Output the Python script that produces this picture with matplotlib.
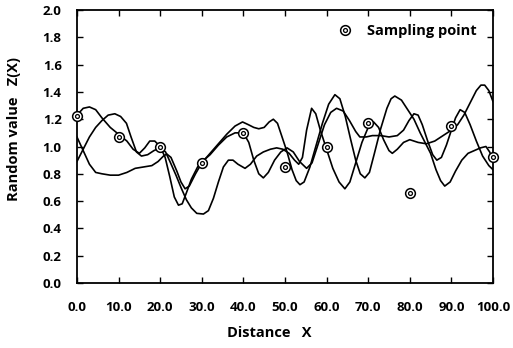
import matplotlib
matplotlib.use("Agg")
from matplotlib import pyplot as plt
from matplotlib.lines import Line2D

# sampling points
sample_x = [0, 10, 20, 30, 40, 50, 60, 70, 80, 90, 100]
sample_z = [1.22, 1.07, 1.00, 0.88, 1.10, 0.85, 1.00, 1.17, 0.66, 1.15, 0.92]

# three simulated curves, read off as (x, z) pairs
curve_a = [(0, 1.23), (1.5, 1.28), (3, 1.29), (4.5, 1.27), (6, 1.21), (8, 1.14), (10, 1.09),
           (12, 1.04), (13.5, 0.98), (15, 0.95), (16.3, 0.99), (17.5, 1.04), (18.7, 1.04),
           (20, 1.00), (21.2, 0.92), (22.3, 0.78), (23.4, 0.63), (24.4, 0.57), (25.3, 0.58),
           (26.3, 0.66), (27.5, 0.76), (29, 0.85), (30.5, 0.90), (32, 0.94), (34, 1.01),
           (36, 1.07), (38, 1.10), (40, 1.10), (41.3, 1.03), (42.5, 0.90), (43.7, 0.80),
           (44.8, 0.77), (46, 0.81), (47.5, 0.90), (49, 0.96), (50.5, 0.99), (52, 0.96),
           (53.5, 0.89), (55.2, 0.84), (56.5, 0.88), (58, 1.02), (59.5, 1.16), (61, 1.25),
           (62.4, 1.28), (64, 1.26), (65.5, 1.19), (67, 1.11), (68, 1.07), (69.5, 1.07),
           (71, 1.08), (73, 1.08), (75, 1.07), (77, 1.08), (78.5, 1.12), (79.8, 1.19),
           (81, 1.24), (82, 1.23), (83, 1.16), (84.3, 1.04), (85.5, 0.94), (86.5, 0.90),
           (87.6, 0.92), (88.8, 1.01), (90, 1.12), (91, 1.21), (92.1, 1.27), (93.2, 1.25),
           (94.5, 1.16), (96, 1.04), (97.5, 0.93), (99, 0.86), (100, 0.83)]

curve_b = [(0, 0.89), (1.5, 0.98), (3, 1.07), (4.5, 1.14), (6, 1.19), (7.5, 1.23), (9.1, 1.24),
           (10.5, 1.22), (11.9, 1.17), (13, 1.07), (14.3, 0.96), (15.5, 0.93), (17, 0.94),
           (18.5, 0.97), (20, 0.99), (21.3, 0.96), (22.5, 0.88), (23.8, 0.79), (25, 0.70),
           (26.3, 0.61), (27.5, 0.55), (28.8, 0.51), (30.4, 0.505), (31.6, 0.53), (32.8, 0.62),
           (34, 0.74), (35.2, 0.85), (36.4, 0.90), (37.5, 0.90), (38.7, 0.87), (40.4, 0.84),
           (41.7, 0.87), (43.2, 0.93), (44.8, 0.96), (46.5, 0.98), (48, 0.99), (49.5, 0.98),
           (51, 0.95), (52.3, 0.90), (53.3, 0.87), (54.2, 0.92), (55.2, 1.12), (56.4, 1.28),
           (57.4, 1.24), (58.5, 1.12), (60, 0.98), (61.5, 0.84), (63, 0.74), (64.4, 0.69),
           (65.6, 0.74), (67, 0.88), (68.5, 1.03), (70, 1.14), (71.3, 1.18), (72.5, 1.14),
           (73.7, 1.05), (75, 0.97), (75.8, 0.95), (77, 0.98), (78.5, 1.03), (80, 1.05),
           (82, 1.03), (84, 1.02), (86, 1.04), (88, 1.08), (90, 1.12), (91.5, 1.16),
           (93, 1.23), (94.5, 1.32), (96, 1.41), (97.1, 1.45), (98, 1.45), (99, 1.41),
           (100, 1.33)]

curve_c = [(0, 1.07), (1.5, 0.97), (3, 0.87), (4.5, 0.81), (6, 0.80), (8, 0.79), (10, 0.79),
           (12, 0.81), (14, 0.84), (16, 0.85), (18, 0.86), (19.5, 0.89), (20.8, 0.93),
           (21.6, 0.945), (22.6, 0.92), (24, 0.82), (25, 0.74), (26, 0.69), (27, 0.71),
           (28.5, 0.80), (30, 0.88), (32, 0.95), (34, 1.02), (36, 1.09), (38, 1.15),
           (39.8, 1.18), (41.2, 1.16), (42.5, 1.14), (43.7, 1.13), (45, 1.14), (46.2, 1.18),
           (47.2, 1.20), (48.2, 1.17), (49.3, 1.07), (50.5, 0.96), (51.7, 0.83), (52.7, 0.75),
           (53.6, 0.72), (54.6, 0.74), (56, 0.85), (57.5, 1.01), (59, 1.17), (60.5, 1.31),
           (62, 1.38), (63.2, 1.35), (64.5, 1.22), (65.8, 1.05), (67, 0.90), (68.1, 0.80),
           (69.2, 0.77), (70.3, 0.81), (71.5, 0.95), (73, 1.13), (74.5, 1.28), (75.5, 1.35),
           (76.4, 1.37), (78, 1.34), (79.5, 1.27), (81, 1.20), (82.5, 1.10), (84, 1.01),
           (85, 0.95), (86.3, 0.83), (87.4, 0.75), (88.4, 0.71), (89.7, 0.74), (91, 0.82),
           (92.5, 0.90), (94, 0.95), (95.5, 0.97), (97, 0.99), (98.3, 1.00), (99.2, 0.96),
           (100, 0.90)]

x_ticks = [0, 10, 20, 30, 40, 50, 60, 70, 80, 90, 100]
y_ticks = [0.0, 0.2, 0.4, 0.6, 0.8, 1.0, 1.2, 1.4, 1.6, 1.8, 2.0]

plt.rcParams['font.family'] = ['Open Sans', 'DejaVu Sans']

fig = plt.figure(figsize=(5.13, 3.48), dpi=100)
ax = fig.add_axes([0.150, 0.187, 0.811, 0.784])

for curve in (curve_a, curve_b, curve_c):
    xs = [p[0] for p in curve]
    zs = [p[1] for p in curve]
    ax.plot(xs, zs, color="black", lw=1.2, solid_joinstyle="round", zorder=2)

# double circle markers
ax.plot(sample_x, sample_z, ls="none", marker="o", ms=7, mfc="white", mec="black", mew=1.1,
        zorder=3, clip_on=False)
ax.plot(sample_x, sample_z, ls="none", marker="o", ms=2.8, mfc="none", mec="black", mew=0.9,
        zorder=4, clip_on=False)

outer = Line2D([], [], ls="none", marker="o", ms=7, mfc="white", mec="black", mew=1.1)
inner = Line2D([], [], ls="none", marker="o", ms=2.8, mfc="none", mec="black", mew=0.9)
ax.legend([(outer, inner)], ["Sampling point"], loc="upper right", frameon=False,
          prop={"size": 10.5, "weight": "bold"}, handlelength=1.0, handletextpad=1.0,
          borderaxespad=0.3, bbox_to_anchor=(0.985, 0.985))

ax.set_xlim(0, 100)
ax.set_ylim(0, 2.0)
ax.set_xticks(x_ticks)
ax.set_xticklabels([f"{v:.1f}" for v in x_ticks])
ax.set_yticks(y_ticks)
ax.set_yticklabels([f"{v:.1f}" for v in y_ticks])
ax.tick_params(direction="in", length=4, width=1.0, top=True, right=True,
               labelsize=9.5, pad=11)
ax.tick_params(axis="x", pad=13)
for lab in ax.get_xticklabels() + ax.get_yticklabels():
    lab.set_fontweight("bold")
for sp in ax.spines.values():
    sp.set_linewidth(1.3)

fig.text(0.524, 1 - 333 / 348, "Distance   X", ha="center", va="center",
         fontsize=10.5, fontweight="bold")
fig.text(14 / 513, 1 - 129 / 348, "Random value   Z(X)", ha="center", va="center",
         rotation=90, fontsize=10.5, fontweight="bold")

fig.savefig("out.png", dpi=100)
